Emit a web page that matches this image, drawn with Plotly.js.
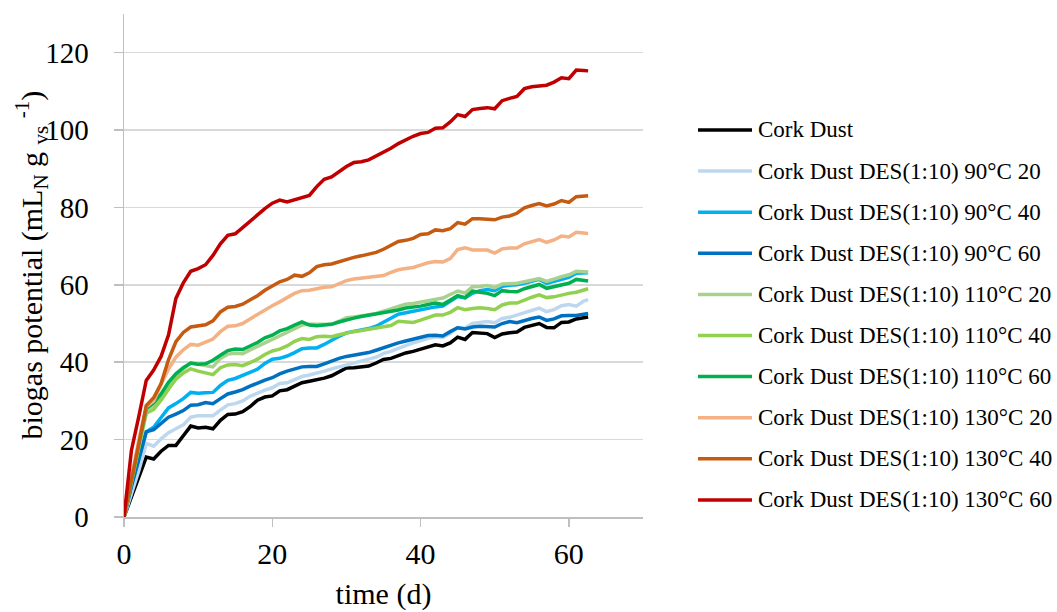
<!DOCTYPE html>
<html>
<head>
<meta charset="utf-8">
<script src="https://cdn.plot.ly/plotly-3.0.1.min.js"></script>
<style>html,body{margin:0;padding:0;background:#fff;}#chart{width:1057px;height:612px;}</style>
</head>
<body>
<div id="chart"></div>
<script>
// time (d)
const days = [0,1,2,3,4,5,6,7,8,9,10,11,12,13,14,15,16,17,18,19,20,21,22,23,24,25,26,27,28,29,30,31,32,33,34,35,36,37,38,39,40,41,42,43,44,45,46,47,48,49,50,51,52,53,54,55,56,57,58,59,60,61,62,62.6];

const seriesNames = [
  "Cork Dust",
  "Cork Dust DES(1:10) 90°C 20",
  "Cork Dust DES(1:10) 90°C 40",
  "Cork Dust DES(1:10) 90°C 60",
  "Cork Dust DES(1:10) 110°C 20",
  "Cork Dust DES(1:10) 110°C 40",
  "Cork Dust DES(1:10) 110°C 60",
  "Cork Dust DES(1:10) 130°C 20",
  "Cork Dust DES(1:10) 130°C 40",
  "Cork Dust DES(1:10) 130°C 60"
];

const corkDust = [0,5,10,15.5,15,17,18.5,18.5,21,23.5,23,23.2,22.8,25,26.5,26.6,27.2,28.5,30.2,31,31.3,32.6,32.9,33.8,34.7,35.1,35.4,35.9,36.5,37.5,38.5,38.6,38.7,39,39.8,40.7,41,41.8,42.4,42.8,43.3,43.9,44.5,44.2,45,46.5,45.9,47.7,47.6,47.4,46.4,47.3,47.6,47.8,49,49.5,50,49,48.9,50.3,50.4,51.2,51.5,51.7];
const des90_20 = [0,6,12,19,18.3,20.2,21.8,22.8,23.8,25.8,26.2,26.2,26.2,27.6,29,29.3,30,31.2,32.1,32.8,33.4,34.5,34.7,35.6,36.3,36.7,37.1,37.7,38.3,38.8,39.3,39.7,40.2,40.8,41.3,42.3,42.8,43.6,44.4,45,45.5,46.2,46.6,46.4,47.5,49,48.8,50,50.3,50.5,50.2,51.3,51.6,52.2,53,53.5,54,53.1,53.6,54.6,54.9,54.5,55.8,56.2];
const des90_40 = [0,8,15,22,23.2,25.7,28.2,29.3,30.6,32.2,32,32.1,32.2,34,35.3,35.8,36.6,37.5,38.2,39.7,40.8,41,41.6,42.5,43.5,43.7,43.7,44.6,45.7,46.7,47.6,47.9,48.2,48.7,49.3,50.3,51.5,52.4,52.8,53.2,53.6,53.9,54.3,54.5,55.7,57,56.6,57.8,58.5,58.8,58.5,59.6,59.9,60,60.4,60.9,61.4,60.4,60.9,61.6,61.9,63,63,63.1];
const des90_60 = [0,8,15,22,22.6,24.2,25.8,26.6,27.5,28.9,29,29.6,29.3,30.6,31.8,32.3,32.9,33.8,34.7,35.4,36,37,37.7,38.3,38.8,38.9,38.9,39.6,40.4,41,41.5,41.8,42.1,42.5,43.1,43.8,44.4,45,45.5,45.9,46.3,46.9,47,46.8,47.9,48.9,48.6,49.1,49.3,49.2,49.1,50,50.5,50.2,50.8,51.3,51.7,50.8,51.2,52,52.1,52.1,52.4,52.6];
const des110_20 = [0,10,19,27.7,28.7,31,34,36.4,38.3,39.8,39.5,39.1,38.8,41,42.1,42.3,42.2,43.2,44.2,45,45.9,46.8,47.7,48.7,49.6,49.8,49.8,49.8,49.8,50.6,51.5,51.7,51.9,52.3,52.6,53.1,53.8,54.4,55,55.2,55.5,55.8,56.2,56.6,57.5,58.4,57.9,59.5,59.6,59.8,59.3,60.2,60.3,60.4,60.8,61.2,61.6,60.9,61.6,62.1,62.6,63.5,63.4,63.3];
const des110_40 = [0,9,18,26.8,27.8,30.2,33,35.6,37.2,38.3,37.7,37.2,36.8,38.6,39.3,39.4,39.1,39.9,40.8,42,42.9,43.4,44.2,45.4,46.1,45.9,46.6,46.7,46.6,47.1,47.6,47.9,48.2,48.5,49,49.3,49.5,50.6,50.5,50.3,50.9,51.6,52.2,52.2,52.9,54.1,53.6,53.9,54.1,53.9,53.6,54.8,55.3,55.3,56.1,56.8,57.4,56.7,56.9,57.4,57.8,58.1,58.7,59];
const des110_60 = [0,10,19,28,29.5,31.8,34.8,37,38.6,39.8,39.5,39.6,40.5,41.8,43,43.4,43.3,44.2,45.1,46.3,47,48.1,48.7,49.6,50.4,49.6,49.4,49.6,49.8,50.4,51,51.4,51.8,52.1,52.5,52.8,53,53.5,54,54.2,54.5,54.9,55.3,54.9,56,57.2,56.7,58.4,58.1,57.8,57.2,58.5,58.3,58.2,59,59.6,60.1,59.1,59.5,60,60.4,61.4,61.1,61];
const des130_20 = [0,10,20,28.5,30,34.3,38.2,41.3,43.2,44.6,44.4,45.2,46,47.9,49.3,49.4,50,51.2,52.4,53.6,54.6,55.6,56.7,57.8,58.5,58.6,59,59.4,59.5,60.2,61.1,61.5,61.7,62,62.3,62.4,63.2,63.9,64.2,64.5,65.1,65.7,66,65.9,66.8,69.1,69.6,69,69,69,68.2,69.3,69.5,69.5,70.6,71.2,71.7,71,71.6,72.6,72.4,73.6,73.4,73.3];
const des130_40 = [0,9,19,28.8,30.8,34.5,40.6,45.3,47.7,49.1,49.4,49.7,50.7,53,54.2,54.4,55,56,57.2,58.6,59.8,60.8,61.4,62.5,62.2,63.1,64.7,65.2,65.4,66,66.7,67.1,67.5,67.9,68.4,69.2,70.2,71.2,71.5,72,73,73.2,74.2,74,74.5,76.1,75.7,77.1,77.1,77,76.8,77.5,77.8,78.5,79.9,80.5,81,80.4,80.9,81.8,81.3,82.8,82.9,83];
const des130_60 = [0,17.2,26,35.3,38,41.5,47,56.5,60.5,63.5,64.2,65.2,67.6,70.6,72.8,73.2,74.8,76.5,78.1,79.7,81.1,81.9,81.4,81.9,82.4,83.1,85.4,87.3,87.9,89.2,90.6,91.6,91.8,92.3,93.3,94.1,95.3,96.5,97.5,98.4,99.1,99.4,100.5,100.6,102.1,104,103.5,105.3,105.6,105.8,105.5,107.6,108.2,108.7,110.7,111.2,111.4,111.6,112.4,113.5,113.3,115.5,115.4,115.3];

const seriesValues = [corkDust, des90_20, des90_40, des90_60, des110_20, des110_40, des110_60, des130_20, des130_40, des130_60];
const seriesColors = ["#000000","#bdd7ee","#00b0f0","#0070c0","#a9d18e","#92d050","#00b050","#f4b183","#c55a11","#c00000"];

const yTicks = [0,20,40,60,80,100,120];
const xTicks = [0,20,40,60];
const yTitle = "biogas potential (mL<sub>N</sub> g <sub>vs</sub> <sup>-1</sup>)";
const xTitle = "time (d)";

const FONT = "'Liberation Serif', 'Times New Roman', serif";

// plot-area geometry (pixels) used to place the legend and y title in paper units
const W = 1057, H = 612, ML = 124, MR = 414, MT = 14, MB = 95;
const PW = W - ML - MR, PH = H - MT - MB;
const px = v => (v - ML) / PW;
const py = v => (H - MB - v) / PH;

const traces = seriesNames.map((name, i) => ({
  type: "scatter",
  mode: "lines",
  name: name,
  x: days,
  y: seriesValues[i],
  line: {color: seriesColors[i], width: 3.5},
  hoverinfo: "skip",
  showlegend: false
}));

// legend drawn as shapes + text annotations
const shapes = [];
const annotations = [];
seriesNames.forEach((name, i) => {
  const yc = py(130 + 41.1 * i);
  shapes.push({type: "line", xref: "paper", yref: "paper", x0: px(698), x1: px(752), y0: yc, y1: yc,
               line: {color: seriesColors[i], width: 3.5}});
  annotations.push({xref: "paper", yref: "paper", x: px(756), y: yc, xanchor: "left", yanchor: "middle",
                    text: name, showarrow: false, font: {family: FONT, size: 23, color: "#000000"}});
});
annotations.push({xref: "paper", yref: "paper", x: px(32), y: 0.5, xanchor: "center", yanchor: "middle",
                  text: yTitle, textangle: -90, showarrow: false,
                  font: {family: FONT, size: 30, color: "#000000"}});

const layout = {
  width: W,
  height: H,
  margin: {l: ML, r: MR, t: MT, b: MB},
  paper_bgcolor: "#ffffff",
  plot_bgcolor: "#ffffff",
  font: {family: FONT, size: 30, color: "#000000"},
  showlegend: false,
  shapes: shapes,
  annotations: annotations,
  xaxis: {
    range: [0, 70],
    tickvals: xTicks,
    ticktext: xTicks.map(String),
    showgrid: false,
    zeroline: false,
    showline: true,
    linecolor: "#bfbfbf",
    linewidth: 1.5,
    ticks: "outside",
    ticklen: 8,
    tickcolor: "#bfbfbf",
    tickwidth: 1.5,
    ticklabelstandoff: 1,
    tickfont: {family: FONT, size: 30, color: "#000000"},
    title: {text: xTitle, font: {family: FONT, size: 30, color: "#000000"}, standoff: 14}
  },
  yaxis: {
    range: [0, 130],
    tickvals: yTicks,
    ticktext: yTicks.map(String),
    showgrid: true,
    gridcolor: "#d9d9d9",
    gridwidth: 1.5,
    zeroline: false,
    showline: true,
    linecolor: "#bfbfbf",
    linewidth: 1.5,
    ticks: "outside",
    ticklen: 9,
    tickcolor: "#bfbfbf",
    tickwidth: 1.5,
    ticklabelstandoff: 19,
    tickfont: {family: FONT, size: 29, color: "#000000"}
  }
};

Plotly.newPlot("chart", traces, layout, {displayModeBar: false, staticPlot: true});
</script>
</body>
</html>
